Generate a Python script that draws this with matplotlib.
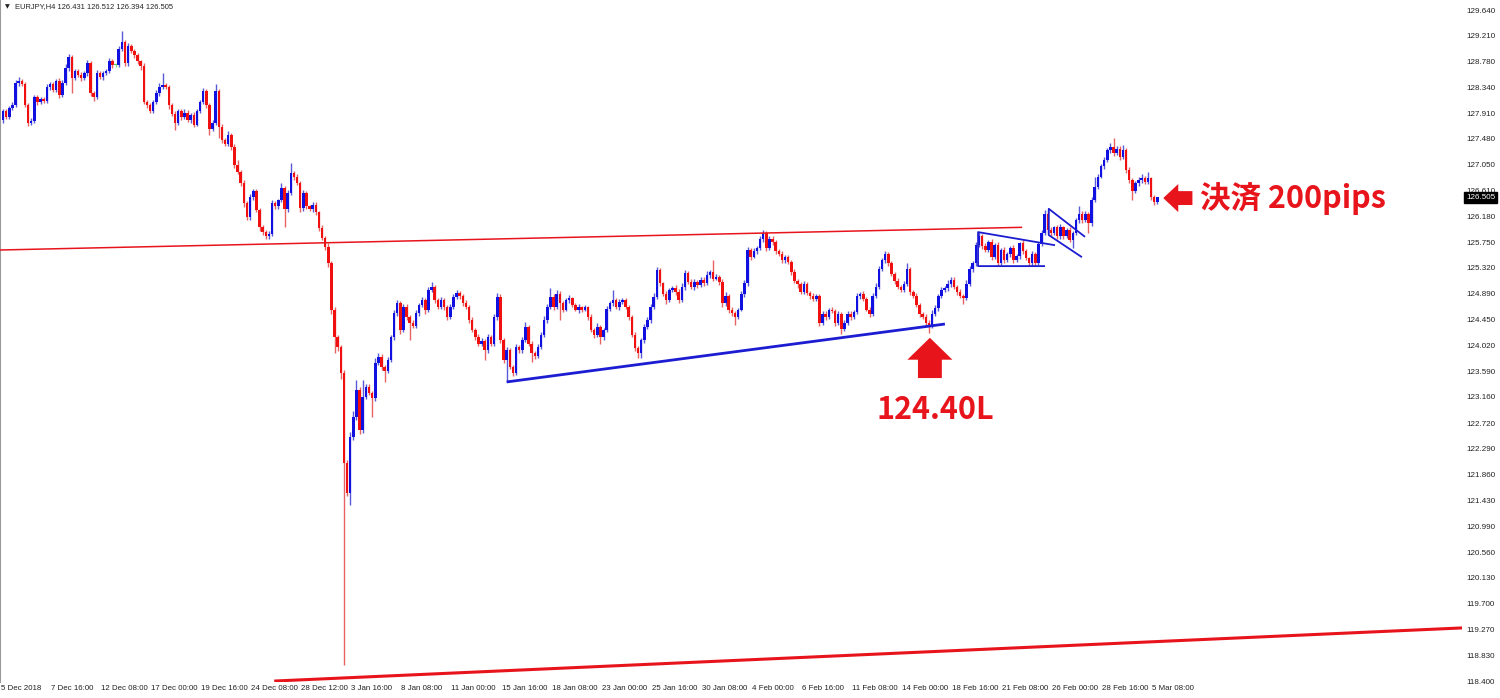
import matplotlib

matplotlib.use("Agg")
import matplotlib.pyplot as plt
import matplotlib.transforms as mtransforms
import numpy as np

# EURJPY H4 closes, one row per 16 bars (one x label per row)
FIRST_OPEN = 127.80
CLOSES = [
    127.95, 127.85, 128.00, 128.05, 128.42, 128.45, 128.40, 128.05, 127.75, 127.78, 128.18, 128.10, 128.15, 128.12, 128.35, 128.40,
    128.30, 128.45, 128.22, 128.42, 128.67, 128.85, 128.50, 128.62, 128.55, 128.50, 128.58, 128.75, 128.25, 128.18, 128.58, 128.52,
    128.58, 128.62, 128.78, 128.72, 128.72, 128.98, 129.10, 128.75, 129.03, 128.95, 128.88, 128.78, 128.70, 128.10, 128.05, 127.95,
    128.10, 128.25, 128.35, 128.38, 128.35, 128.05, 127.90, 127.75, 127.95, 127.85, 127.92, 127.80, 127.88, 127.72, 127.95, 128.10,
    128.28, 128.05, 127.65, 127.75, 128.28, 127.68, 127.46, 127.40, 127.55, 127.35, 127.05, 126.93, 126.75, 126.40, 126.17, 126.50,
    126.60, 126.29, 126.00, 125.92, 125.85, 125.88, 126.40, 126.35, 126.45, 126.66, 126.30, 126.57, 126.91, 126.85, 126.75, 126.32,
    126.57, 126.35, 126.30, 126.38, 126.25, 125.99, 125.82, 125.67, 125.40, 124.62, 124.16, 123.99, 123.56, 122.05, 121.55, 122.49,
    122.82, 123.28, 122.60, 123.16, 123.33, 123.22, 123.14, 123.73, 123.83, 123.66, 123.60, 123.77, 124.16, 124.56, 124.73, 124.28,
    124.67, 124.50, 124.40, 124.35, 124.56, 124.70, 124.78, 124.61, 124.95, 125.00, 124.78, 124.67, 124.78, 124.67, 124.50, 124.67,
    124.84, 124.90, 124.85, 124.73, 124.67, 124.45, 124.28, 124.16, 124.05, 124.10, 123.94, 124.16, 124.05, 124.50, 124.84, 124.11,
    123.78, 123.94, 123.66, 123.56, 123.99, 123.94, 124.11, 124.33, 124.05, 123.89, 123.85, 124.00, 124.20, 124.45, 124.66, 124.84,
    124.66, 124.89, 124.73, 124.62, 124.78, 124.81, 124.70, 124.62, 124.66, 124.62, 124.66, 124.50, 124.28, 124.20, 124.33, 124.16,
    124.28, 124.64, 124.73, 124.78, 124.66, 124.75, 124.78, 124.66, 124.50, 124.20, 123.98, 123.90, 124.11, 124.33, 124.45, 124.66,
    124.84, 125.28, 125.06, 124.89, 124.78, 124.95, 124.98, 124.92, 124.78, 125.00, 125.23, 125.09, 125.00, 125.09, 125.03, 125.12,
    125.06, 125.20, 125.25, 125.14, 125.17, 125.09, 124.73, 124.85, 124.62, 124.56, 124.50, 124.62, 124.89, 125.06, 125.62, 125.51,
    125.60, 125.65, 125.80, 125.90, 125.65, 125.80, 125.75, 125.60, 125.55, 125.45, 125.50, 125.42, 125.25, 125.10, 125.05, 124.92,
    125.05, 124.90, 124.85, 124.80, 124.85, 124.40, 124.55, 124.50, 124.62, 124.60, 124.40, 124.55, 124.30, 124.40, 124.55, 124.50,
    124.58, 124.85, 124.88, 124.80, 124.62, 124.55, 124.85, 125.00, 125.30, 125.45, 125.55, 125.40, 125.22, 125.10, 125.00, 124.95,
    125.05, 125.30, 124.92, 124.85, 124.70, 124.55, 124.50, 124.40, 124.35, 124.55, 124.65, 124.85, 124.95, 124.98, 125.05, 125.12,
    125.00, 124.92, 124.85, 124.82, 125.05, 125.30, 125.40, 125.70, 125.85, 125.68, 125.62, 125.75, 125.51, 125.70, 125.40, 125.62,
    125.45, 125.55, 125.65, 125.45, 125.52, 125.73, 125.60, 125.48, 125.40, 125.55, 125.40, 125.72, 125.90, 126.23, 125.95, 125.90,
    126.00, 125.85, 126.00, 125.85, 125.95, 125.79, 125.90, 126.12, 126.23, 126.12, 126.23, 126.07, 126.46, 126.68, 126.85, 127.02,
    127.13, 127.29, 127.35, 127.24, 127.32, 127.18, 127.29, 126.96, 126.79, 126.60, 126.74, 126.79, 126.82, 126.76, 126.82, 126.51,
    126.43, 126.505,
]
# wick lengths above / below the body, in pips (0.01 JPY)
UPPER_WICK_PIPS = [
    3, 4, 3, 5, 4, 6, 3, 4, 3, 5, 4, 3, 4, 3, 5, 4,
    4, 3, 5, 4, 6, 5, 3, 4, 3, 5, 4, 6, 3, 4, 5, 3,
    4, 3, 5, 4, 3, 5, 18, 3, 5, 4, 3, 4, 3, 5, 4, 3,
    4, 5, 6, 20, 3, 4, 3, 5, 4, 3, 6, 4, 3, 5, 4, 3,
    5, 4, 3, 4, 12, 3, 5, 4, 6, 3, 4, 8, 3, 5, 4, 6,
    4, 5, 3, 4, 3, 5, 6, 4, 3, 8, 4, 5, 16, 4, 5, 3,
    6, 4, 3, 5, 4, 3, 5, 4, 6, 4, 5, 3, 4, 5, 6, 8,
    10, 17, 4, 28, 5, 4, 3, 8, 6, 4, 3, 5, 4, 6, 5, 4,
    5, 4, 3, 4, 5, 4, 6, 3, 5, 8, 4, 3, 5, 4, 3, 5,
    4, 5, 3, 4, 5, 3, 4, 3, 5, 4, 3, 6, 4, 5, 6, 4,
    3, 5, 4, 3, 6, 4, 5, 8, 3, 4, 3, 5, 4, 6, 5, 14,
    4, 6, 5, 3, 4, 5, 3, 4, 5, 3, 4, 3, 5, 4, 6, 3,
    4, 5, 4, 17, 3, 5, 4, 3, 4, 3, 5, 4, 3, 5, 4, 5,
    6, 6, 4, 3, 5, 4, 3, 5, 4, 6, 5, 3, 4, 5, 3, 4,
    5, 6, 4, 20, 5, 3, 4, 6, 3, 5, 4, 3, 5, 6, 5, 4,
    5, 4, 6, 5, 4, 5, 6, 3, 4, 5, 3, 4, 3, 5, 4, 3,
    5, 3, 4, 5, 3, 4, 5, 4, 3, 5, 4, 5, 3, 4, 5, 4,
    3, 5, 4, 6, 3, 4, 5, 6, 5, 4, 5, 3, 4, 3, 5, 4,
    5, 10, 4, 3, 5, 4, 3, 5, 4, 6, 5, 4, 5, 4, 6, 5,
    4, 3, 5, 4, 6, 5, 4, 6, 7, 4, 5, 3, 6, 4, 5, 3,
    5, 4, 3, 5, 4, 3, 5, 4, 3, 5, 4, 3, 5, 6, 4, 5,
    3, 4, 5, 3, 4, 5, 3, 4, 12, 4, 5, 3, 4, 17, 5, 4,
    5, 4, 6, 14, 4, 5, 9, 4, 5, 3, 4, 5, 8, 4, 11, 3,
    3, 1,
]
LOWER_WICK_PIPS = [
    5, 4, 3, 4, 3, 5, 4, 3, 6, 4, 3, 5, 4, 3, 4, 5,
    3, 4, 5, 3, 4, 5, 25, 3, 4, 5, 3, 4, 5, 6, 3, 4,
    5, 3, 4, 5, 3, 4, 3, 5, 4, 3, 5, 4, 6, 4, 5, 3,
    4, 3, 5, 4, 3, 6, 4, 12, 3, 5, 4, 3, 6, 4, 3, 4,
    3, 5, 10, 4, 3, 18, 5, 4, 3, 5, 6, 4, 5, 6, 5, 4,
    5, 4, 6, 5, 4, 5, 3, 4, 5, 3, 30, 4, 3, 5, 4, 6,
    4, 5, 3, 4, 5, 6, 4, 5, 6, 8, 26, 6, 10, 338, 5, 20,
    5, 4, 6, 5, 4, 3, 32, 5, 4, 5, 19, 4, 3, 5, 4, 6,
    4, 5, 29, 4, 3, 5, 4, 6, 3, 4, 5, 4, 3, 6, 5, 4,
    3, 4, 5, 4, 3, 6, 4, 5, 4, 3, 16, 5, 4, 3, 5, 4,
    5, 37, 4, 5, 3, 4, 5, 3, 4, 14, 5, 4, 3, 4, 5, 3,
    4, 3, 28, 4, 3, 5, 4, 3, 5, 4, 3, 5, 4, 6, 4, 11,
    4, 3, 5, 4, 3, 5, 4, 3, 5, 4, 6, 9, 9, 4, 3, 5,
    3, 4, 5, 4, 6, 3, 4, 5, 4, 3, 5, 4, 3, 5, 4, 3,
    4, 3, 5, 4, 3, 5, 6, 4, 5, 4, 14, 4, 3, 5, 4, 6,
    3, 4, 3, 5, 4, 3, 5, 4, 3, 5, 4, 3, 5, 4, 6, 4,
    3, 4, 5, 4, 3, 6, 4, 5, 3, 4, 6, 4, 8, 4, 3, 5,
    4, 3, 5, 4, 3, 5, 4, 3, 4, 3, 5, 4, 3, 5, 4, 3,
    4, 3, 5, 4, 3, 5, 4, 5, 12, 4, 3, 5, 4, 3, 4, 5,
    4, 5, 3, 10, 4, 3, 5, 4, 3, 5, 4, 3, 5, 4, 5, 3,
    4, 3, 5, 4, 3, 5, 4, 3, 5, 4, 5, 3, 4, 3, 5, 4,
    3, 4, 5, 4, 3, 4, 14, 3, 4, 5, 3, 17, 4, 3, 4, 3,
    4, 3, 5, 4, 3, 5, 4, 5, 4, 14, 3, 4, 5, 4, 3, 6,
    6, 4,
]

X_LABELS = [
    "5 Dec 2018", "7 Dec 16:00", "12 Dec 08:00", "17 Dec 00:00", "19 Dec 16:00",
    "24 Dec 08:00", "28 Dec 12:00", "3 Jan 16:00", "8 Jan 08:00", "11 Jan 00:00",
    "15 Jan 16:00", "18 Jan 08:00", "23 Jan 00:00", "25 Jan 16:00", "30 Jan 08:00",
    "4 Feb 00:00", "6 Feb 16:00", "11 Feb 08:00", "14 Feb 00:00", "18 Feb 16:00",
    "21 Feb 08:00", "26 Feb 00:00", "28 Feb 16:00", "5 Mar 08:00",
]
BARS_PER_LABEL = 16
Y_TICKS = [
    129.640, 129.210, 128.780, 128.340, 127.910, 127.480, 127.050, 126.610, 126.180,
    125.750, 125.320, 124.890, 124.450, 124.020, 123.590, 123.160, 122.720, 122.290,
    121.860, 121.430, 120.990, 120.560, 120.130, 119.700, 119.270, 118.830, 118.400,
]
HEADER_TEXT = "EURJPY,H4 126.431 126.512 126.394 126.505"
LAST_PRICE = 126.505

# hand drawn objects on the chart, as (bar index, price)
RESISTANCE = [(-1.0, 125.62), (325.8, 126.00)]
LOWER_CHANNEL = [(86.7, 118.40), (466.5, 119.29)]
SUPPORT = [(161.0, 123.41), (301.1, 124.38)]
TRIANGLE = [(336.3, 125.70), (311.7, 125.92), (311.7, 125.35), (333.1, 125.35)]
FLAG = [(345.9, 125.84), (334.3, 126.31), (334.3, 125.87), (344.9, 125.50)]
ENTRY_ARROW = (296.3, 124.15)
ENTRY_TEXT = "124.40L"
ENTRY_TEXT_AT = (297.9, 122.94)
EXIT_ARROW = (370.9, 126.49)
EXIT_TEXT = "決済 200pips"
EXIT_TEXT_AT = (382.7, 126.49)

RED = "#e8141c"
BLUE = "#1c1cd2"


def main() -> None:
    closes = np.array(CLOSES)
    opens = np.concatenate([[FIRST_OPEN], closes[:-1]])
    highs = np.maximum(opens, closes) + np.array(UPPER_WICK_PIPS) * 0.01
    lows = np.minimum(opens, closes) - np.array(LOWER_WICK_PIPS) * 0.01
    idx = np.arange(len(closes))

    body_cols, wick_cols = [], []
    for o, c in zip(opens, closes):
        if abs(c - o) < 1e-9:
            body_cols.append("#5fcf5f")
            wick_cols.append("#8fdc8f")
        elif c > o:
            body_cols.append("#1010e0")
            wick_cols.append("#5a5ad8")
        else:
            body_cols.append("#f01010")
            wick_cols.append("#e86262")

    fig = plt.figure(figsize=(15, 6.98), dpi=100)
    ax = fig.add_axes([0.0, 16 / 698, 1462 / 1500, 682 / 698])
    ax.set_xlim(-0.96, 466.4)
    ax.set_ylim(118.384, 129.8075)

    ax.vlines(idx, lows, highs, colors=wick_cols, linewidth=1.0, zorder=2)
    ax.bar(idx, np.maximum(np.abs(closes - opens), 0.02),
           bottom=np.minimum(opens, closes), width=0.8,
           color=body_cols, linewidth=0, zorder=3)

    def poly(points, color, lw):
        xs, ys = zip(*points)
        ax.plot(xs, ys, color=color, linewidth=lw, solid_capstyle="butt", zorder=4)

    poly(RESISTANCE, RED, 1.1)
    poly(LOWER_CHANNEL, RED, 2.2)
    poly(SUPPORT, BLUE, 2.0)
    poly(TRIANGLE, BLUE, 1.3)
    poly(FLAG, BLUE, 1.3)

    ax.annotate("", xy=ENTRY_ARROW, xytext=(0, -29), textcoords="offset points",
                arrowprops=dict(arrowstyle="simple,head_length=0.79,head_width=1.62,tail_width=0.86",
                                mutation_scale=20, fc=RED, ec="none", shrinkA=0, shrinkB=0))
    ax.annotate("", xy=EXIT_ARROW, xytext=(21, 0), textcoords="offset points",
                arrowprops=dict(arrowstyle="simple,head_length=0.54,head_width=1.01,tail_width=0.5",
                                mutation_scale=20, fc=RED, ec="none", shrinkA=0, shrinkB=0))
    cjk = ["Noto Sans CJK JP", "DejaVu Sans"]
    ax.text(*ENTRY_TEXT_AT, ENTRY_TEXT, color=RED, fontsize=22, fontweight="bold",
            family=cjk, ha="center", va="center")
    ax.text(*EXIT_TEXT_AT, EXIT_TEXT, color=RED, fontsize=22, fontweight="bold",
            family=cjk, ha="left", va="center")

    # axes: MT4 style, prices on the right, dates along the bottom
    for side in ("top", "right", "bottom"):
        ax.spines[side].set_visible(False)
    ax.spines["left"].set_color("#9a9a9a")
    ax.spines["left"].set_linewidth(1.5)

    ax.yaxis.tick_right()
    ax.set_yticks(Y_TICKS)
    ax.set_yticklabels([f"{v:.3f}" for v in Y_TICKS], family="Liberation Sans")
    ax.tick_params(axis="y", length=0, pad=3.5, labelsize=5.8, labelcolor="#222222")

    ax.set_xticks(np.arange(len(X_LABELS)) * BARS_PER_LABEL)
    ax.set_xticklabels(X_LABELS, ha="left", family="Liberation Sans")
    ax.tick_params(axis="x", length=0, pad=2.0, labelsize=5.7, labelcolor="#222222")
    shift = mtransforms.ScaledTranslation(-2 / 100, 0, fig.dpi_scale_trans)
    for lbl in ax.get_xticklabels():
        lbl.set_transform(lbl.get_transform() + shift)

    price_tf = mtransforms.blended_transform_factory(ax.transAxes, ax.transData)
    ax.text(1.0 + 4 / 1462, LAST_PRICE, f"{LAST_PRICE:.3f}", transform=price_tf,
            ha="left", va="center", fontsize=5.8, color="white", family="Liberation Sans",
            bbox=dict(boxstyle="square,pad=0.25", fc="black", ec="black"), zorder=6)

    fig.text(5 / 1500, 1 - 7 / 698, "▼", fontsize=4.5, va="center", color="#222222")
    fig.text(15 / 1500, 1 - 7 / 698, HEADER_TEXT, fontsize=5.4, va="center",
             color="#222222", family="Liberation Sans")

    fig.savefig("out.png", dpi=100, facecolor="white")
    plt.close(fig)


if __name__ == "__main__":
    main()
